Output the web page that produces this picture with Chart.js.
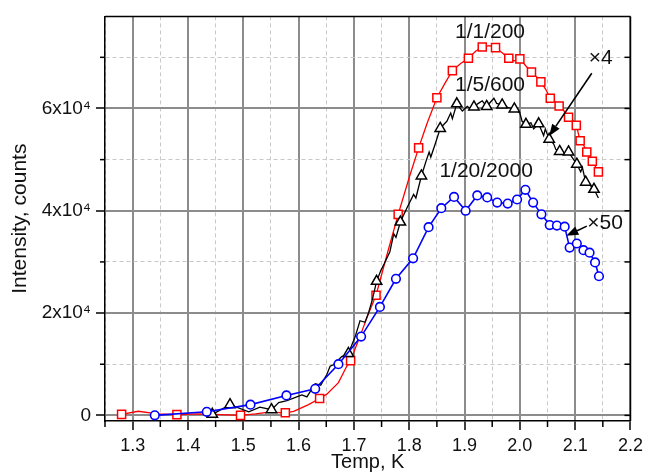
<!DOCTYPE html>
<html><head><meta charset="utf-8">
<script src="https://cdn.jsdelivr.net/npm/chart.js@4/dist/chart.umd.min.js"></script>
<style>html,body{margin:0;padding:0;background:#fff;}#wrap{width:648px;height:476px;}</style>
</head><body><div id="wrap"><canvas id="c" width="648" height="476"></canvas></div>
<script>
// ---- axis ticks ----
const xMajorTicks = [1.3,1.4,1.5,1.6,1.7,1.8,1.9,2.0,2.1,2.2];
const xMinorTicks = [1.25,1.35,1.45,1.55,1.65,1.75,1.85,1.95,2.05,2.15];
const yMajorTicks = [0,20000,40000,60000];
const yMinorTicks = [10000,30000,50000,70000];
const yTickLabels = ['0','2x10⁴','4x10⁴','6x10⁴'];

// ---- 1/1/200 (red squares) ----
const redMarkT = [1.280,1.380,1.495,1.576,1.638,1.694,1.740,1.780,1.817,1.850,1.878,1.907,1.932,1.956,1.980,2.000,2.021,2.038,2.055,2.071,2.088,2.102,2.109,2.121,2.131,2.142];
const redMarkI = [200,150,0,500,3300,10700,23500,39300,52300,62100,67400,69800,72000,71900,69800,69700,67100,65200,62000,60500,58300,56700,53700,51500,49700,47600];
const redLineT = [1.310,1.345,1.420,1.460,1.522,1.546,1.591,1.618,1.651,1.672,1.687,1.710,1.725,1.760,1.800,1.832,1.865,1.893,1.920,1.945,1.968,1.990,2.011,2.030,2.047,2.063,2.080,2.095,2.115];
const redLineI = [800,300,300,150,300,650,800,2100,4150,6400,9600,15200,19500,31500,46500,57000,65000,68800,71200,72300,70900,69300,68300,66200,63700,61400,59500,57800,52900];

// ---- 1/5/600 (black triangles) ----
const blackMarkT = [1.444,1.476,1.551,1.690,1.741,1.784,1.822,1.856,1.886,1.917,1.940,1.968,1.990,2.011,2.034,2.053,2.072,2.088,2.103,2.119,2.134];
const blackMarkI = [200,2100,1100,12100,26200,37800,46800,56100,60900,60300,60400,60700,59900,56900,57000,54000,51600,51500,49100,45600,44200];
const blackLineT = [1.510,1.530,1.564,1.579,1.606,1.615,1.630,1.640,1.651,1.657,1.663,1.678,1.702,1.711,1.720,1.726,1.733,1.749,1.755,1.765,1.772,1.776,1.796,1.808,1.812,1.831,1.836,1.839,1.848,1.868,1.875,1.878,1.896,1.905,1.910,1.925,1.932,1.953,1.958,1.978,2.000,2.004,2.020,2.025,2.043,2.046,2.061,2.065,2.080,2.096,2.110,2.113,2.127,2.142];
const blackLineI = [700,1600,2500,2900,4000,3600,6200,5900,8000,9600,9900,11500,15300,18500,18200,19900,22500,28400,29700,32000,35500,34800,40600,43200,42500,49900,51500,50500,53400,57500,59100,58000,59500,60400,60000,61000,61500,62000,61000,60200,59100,57500,57200,56000,54700,56000,53100,52000,51200,50200,47600,48500,45000,42500];

// ---- 1/20/2000 (blue circles) ----
const blueT = [1.340,1.434,1.513,1.578,1.630,1.672,1.713,1.747,1.776,1.807,1.835,1.858,1.881,1.902,1.923,1.941,1.959,1.978,1.995,2.010,2.024,2.039,2.054,2.067,2.081,2.090,2.103,2.115,2.126,2.136,2.143];
const blueI = [0,700,2100,3900,5200,10000,15400,21200,26700,30700,36800,40500,42700,40000,43000,42600,41600,41400,42200,44100,41600,39300,37200,37100,36900,32800,33600,32300,31800,29900,27200];

// ---- annotations (data coordinates) ----
const annoTexts = ['1/1/200','1/5/600','1/20/2000','×4','×50'];
const annoX = [1.946,1.946,1.939,2.146,2.154];
const annoY = [75000,64500,47700,69800,37500];
const arrowFromX = [2.130,2.121];
const arrowFromY = [66900,37000];
const arrowToX = [2.053,2.084];
const arrowToY = [54600,35100];

const near = (arr, v) => arr.findIndex(m => Math.abs(m - v) < 1e-6);
const pts = (xs, ys) => xs.map((x, i) => ({x: x, y: ys[i]}));
const merged = (a, b) => a.concat(b).sort((p, q) => p.x - q.x);
const FONT = "'Liberation Sans', Arial, Helvetica, sans-serif";
const MAJ = '#8c8c8c', MIN = '#c8c8c8';

const decor = {
  id: 'decor',
  afterDraw(chart) {
    const {ctx, chartArea: a, scales: {x, y}} = chart;
    const line = (x1, y1, x2, y2) => { ctx.beginPath(); ctx.moveTo(x1, y1); ctx.lineTo(x2, y2); ctx.stroke(); };
    ctx.save();
    ctx.strokeStyle = '#000'; ctx.lineWidth = 1.5;
    xMinorTicks.forEach(v => { const p = x.getPixelForValue(v); line(p, a.bottom, p, a.bottom + 6); });
    yMinorTicks.forEach(v => { const p = y.getPixelForValue(v); line(a.left - 5, p, a.left, p); });
    yMajorTicks.concat(yMinorTicks).forEach(v => { const p = y.getPixelForValue(v); line(a.right - 6, p, a.right, p); });
    line(a.left, a.top, a.right, a.top);
    line(a.right, a.top, a.right, a.bottom);
    // labels
    ctx.fillStyle = '#111';
    ctx.font = '21px ' + FONT;
    ctx.textAlign = 'center'; ctx.textBaseline = 'middle';
    annoTexts.forEach((t, i) => ctx.fillText(t, x.getPixelForValue(annoX[i]), y.getPixelForValue(annoY[i])));
    // arrows
    ctx.fillStyle = '#000'; ctx.lineWidth = 1.6;
    arrowFromX.forEach((fx, i) => {
      const x1 = x.getPixelForValue(fx), y1 = y.getPixelForValue(arrowFromY[i]);
      const x2 = x.getPixelForValue(arrowToX[i]), y2 = y.getPixelForValue(arrowToY[i]);
      const ang = Math.atan2(y2 - y1, x2 - x1), L = 12, W = 4.5;
      const bx = x2 - L * Math.cos(ang), by = y2 - L * Math.sin(ang);
      line(x1, y1, bx, by);
      ctx.beginPath();
      ctx.moveTo(x2, y2);
      ctx.lineTo(bx + W * Math.sin(ang), by - W * Math.cos(ang));
      ctx.lineTo(bx - W * Math.sin(ang), by + W * Math.cos(ang));
      ctx.closePath(); ctx.fill();
    });
    ctx.restore();
  }
};

new Chart(document.getElementById('c'), {
  type: 'scatter',
  data: {
    datasets: [
      {label: '1/20/2000', data: pts(blueT, blueI), showLine: false, pointStyle: 'circle', pointRadius: 4.3,
       pointBorderWidth: 1.6, pointBorderColor: '#0000ff', pointBackgroundColor: '#ffffff', order: 1},
      {label: '1/20/2000 line', data: pts(blueT, blueI), showLine: true, borderColor: '#0000ff', borderWidth: 1.6,
       pointRadius: 0, order: 2},
      {label: '1/5/600', data: pts(blackMarkT, blackMarkI), showLine: false, pointStyle: 'triangle', pointRadius: 6,
       pointBorderWidth: 1.5, pointBorderColor: '#000000', pointBackgroundColor: '#ffffff', order: 3},
      {label: '1/5/600 line', data: merged(pts(blackMarkT, blackMarkI), pts(blackLineT, blackLineI)), showLine: true,
       borderColor: '#000000', borderWidth: 1.3, pointRadius: 0, order: 4},
      {label: '1/1/200', data: pts(redMarkT, redMarkI), showLine: false, pointStyle: 'rect', pointRadius: 5.7,
       pointBorderWidth: 1.5, pointBorderColor: '#ff0000', pointBackgroundColor: '#ffffff', order: 5},
      {label: '1/1/200 line', data: merged(pts(redMarkT, redMarkI), pts(redLineT, redLineI)), showLine: true,
       borderColor: '#ff0000', borderWidth: 1.3, pointRadius: 0, order: 6}
    ]
  },
  options: {
    responsive: false, animation: false,
    layout: {padding: {top: 8, right: 12, left: 0, bottom: 0}},
    plugins: {legend: {display: false}, tooltip: {enabled: false}},
    elements: {line: {tension: 0}},
    scales: {
      x: {
        type: 'linear', min: 1.25, max: 2.2,
        afterBuildTicks: s => { s.ticks = xMinorTicks.concat(xMajorTicks).sort((a, b) => a - b).map(v => ({value: v})); },
        afterFit: s => { s.height = 55; },
        ticks: {
          autoSkip: false, maxRotation: 0, padding: 5, color: '#111', font: {family: FONT, size: 18},
          callback: v => near(xMajorTicks, v) >= 0 ? v.toFixed(1) : ''
        },
        grid: {
          color: c => (c.tick && near(xMajorTicks, c.tick.value) >= 0) ? MAJ : MIN,
          lineWidth: c => (c.tick && near(xMajorTicks, c.tick.value) >= 0) ? 2 : 1,
          tickColor: c => (c.tick && near(xMajorTicks, c.tick.value) >= 0) ? '#000' : 'rgba(0,0,0,0)',
          tickLength: 9, tickWidth: 1.5
        },
        border: {color: '#000', width: 1.5, dash: c => (c.tick && near(xMajorTicks, c.tick.value) < 0) ? [4, 3] : []},
        title: {display: true, text: 'Temp, K', color: '#111', font: {family: FONT, size: 20}, padding: {top: 0, bottom: 2}}
      },
      y: {
        type: 'linear', min: -1100, max: 78000,
        afterBuildTicks: s => { s.ticks = yMajorTicks.concat(yMinorTicks).sort((a, b) => a - b).map(v => ({value: v})); },
        afterFit: s => { s.width = 105; },
        ticks: {
          autoSkip: false, padding: 5, color: '#111', font: {family: FONT, size: 19},
          callback: v => { const i = near(yMajorTicks, v); return i >= 0 ? yTickLabels[i] : ''; }
        },
        grid: {
          color: c => (c.tick && near(yMajorTicks, c.tick.value) >= 0) ? MAJ : MIN,
          lineWidth: c => (c.tick && near(yMajorTicks, c.tick.value) >= 0) ? 2 : 1,
          tickColor: c => (c.tick && near(yMajorTicks, c.tick.value) >= 0) ? '#000' : 'rgba(0,0,0,0)',
          tickLength: 9, tickWidth: 1.5
        },
        border: {color: '#000', width: 1.5, dash: c => (c.tick && near(yMajorTicks, c.tick.value) < 0) ? [4, 3] : []},
        title: {display: true, text: 'Intensity, counts', color: '#111', font: {family: FONT, size: 21}, padding: {top: 8, bottom: 0}}
      }
    }
  },
  plugins: [decor]
});
</script></body></html>
